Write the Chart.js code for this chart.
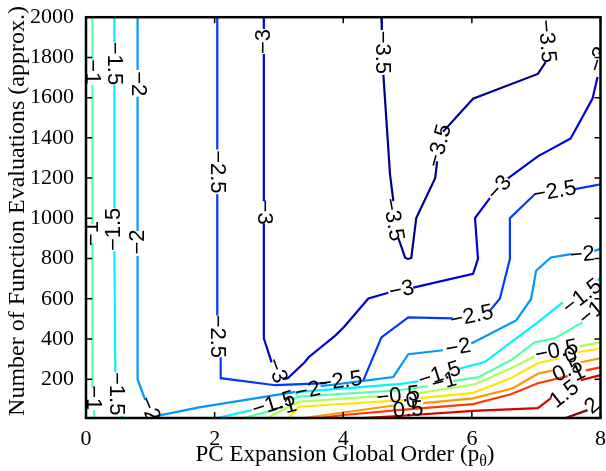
<!DOCTYPE html>
<html><head><meta charset="utf-8">
<script src="https://cdn.jsdelivr.net/npm/chart.js@4/dist/chart.umd.min.js"></script>
<style>html,body{margin:0;padding:0;background:#fff}canvas{display:block}</style>
</head><body><canvas id="c" width="606" height="471"></canvas>
<script>
// ---- data (x = PC order, y = function evaluations) ----
const levels = [-3.5,-3,-2.5,-2,-1.5,-1,-0.5,0,0.5,1,1.5,2];
const xTicks = [0,2,4,6,8];
const yTicks = [200,400,600,800,1000,1200,1400,1600,1800,2000];

// each contour: list of polyline pieces (pieces are separated where a label sits)
const contourM3_5 = [
  [[4.593,2000],[4.60,1936]],
  [[4.624,1713],[4.727,1219],[4.779,1085]],
  [[4.856,902],[4.964,803],[5.011,798],[5.058,803],[5.135,1001],[5.429,1199],[5.46,1283]],
  [[5.553,1431],[6.018,1595],[7.025,1718],[7.148,1777]]
];
const contourM3 = [
  [[2.765,2000],[2.765,1941]],
  [[2.765,1817],[2.765,1085]],
  [[2.765,976],[2.765,403],[2.886,284]],
  [[3.059,200],[3.137,205],[3.40,284],[3.462,309],[3.88,418],[4.004,457],[4.391,601],[4.70,630]],
  [[5.088,655],[6.018,724],[6.095,798],[6.049,1001],[6.28,1100]],
  [[6.56,1199],[7.025,1308],[7.536,1397],[7.876,1595],[7.954,1703]]
];
const contourM2_5 = [
  [[2.041,2000],[2.041,1342]],
  [[2.041,1120],[2.041,517]],
  [[2.094,309],[2.094,205],[2.946,170],[3.741,180]],
  [[4.314,195],[4.593,408],[5.011,507],[5.70,502]],
  [[6.281,541],[6.436,601],[6.591,798],[6.591,1001],[6.978,1120]],
  [[7.598,1145],[8.0,1169]]
];
const contourM2 = [
  [[0.802,2000],[0.802,1738]],
  [[0.802,1604],[0.802,937]],
  [[0.802,813],[0.802,200],[0.922,96]],
  [[1.05,14],[1.758,60],[3.256,137]],
  [[3.648,165],[4.283,190],[4.779,211],[5.011,324],[5.55,344]],
  [[5.991,377],[6.688,492],[6.921,599],[6.998,739],[7.23,805],[7.54,822]],
  [[7.903,838],[8.0,848]]
];
const contourM1_5 = [
  [[0.441,2000],[0.441,1876]],
  [[0.441,1664],[0.441,1051]],
  [[0.441,838],[0.457,235]],
  [[0.55,17],[0.558,7]],
  [[2.037,7],[2.579,46]],
  [[3.261,121],[3.307,137],[4.856,175],[5.166,190]],
  [[5.812,253],[6.199,285],[6.715,409],[7.025,483],[7.412,582]],
  [[7.954,690],[8.0,704]]
];
const contourM1 = [
  [[0.10,2000],[0.10,1787]],
  [[0.10,1664],[0.10,971]],
  [[0.10,877],[0.10,155]],
  [[0.124,46],[0.132,7]],
  [[2.455,7],[2.966,51]],
  [[3.23,101],[3.307,113],[4.856,145],[5.321,165]],
  [[5.708,190],[6.095,209],[6.606,294],[6.978,383],[7.288,403],[7.722,483]]
];
const contourM0_5 = [
  [[2.811,7],[3.307,88],[4.546,116]],
  [[5.166,130],[6.049,175],[6.606,254],[6.978,314]],
  [[7.675,363],[8.0,383]]
];
const contour0 = [
  [[3.152,7],[3.307,63],[4.933,96]],
  [[5.197,106],[6.018,132],[6.606,205],[7.025,279],[7.365,304]],
  [[7.644,334],[8.0,353]]
];
const contourP0_5 = [
  [[3.384,7],[4.787,69]],
  [[5.243,81],[6.018,105],[6.637,155],[7.025,227],[7.257,244]],
  [[7.691,284],[8.0,304]]
];
const contourP1 = [
  [[3.617,7],[4.004,22],[4.856,46],[6.018,76],[6.606,125],[7.025,180],[7.49,215]],
  [[7.77,244],[8.0,259]]
];
const contourP1_5 = [
  [[4.004,2],[4.856,17],[6.018,42],[7.025,56],[7.226,105]],
  [[7.691,195],[8.0,220]]
];
const contourP2 = [
  [[7.412,2],[7.799,46]]
];

// contour labels: [text, x, y, angle in degrees]
const contourLabels = [
  ['\u22123.5',4.60,1825,90],['\u22123.5',4.77,994,80],['\u22123.5',5.50,1360,-75],['\u22123.5',7.16,1880,85],
  ['\u22123',2.765,1879,-90],['\u22123',2.765,1031,90],['\u22123',2.96,242,70],['\u22123',4.91,643,-12],['\u22123',6.43,1150,-48],['\u22123',7.98,1790,-72],
  ['\u22122.5',2.041,1231,90],['\u22122.5',2.041,413,90],['\u22122.5',3.96,188,-8],['\u22122.5',6.0,512,-12],['\u22122.5',7.29,1132,-10],
  ['\u22122',0.802,1669,90],['\u22122',0.802,882,-90],['\u22122',0.98,51,68],['\u22122',3.45,140,-12],['\u22122',5.79,356,-10],['\u22122',7.72,818,-5],
  ['\u22121.5',0.441,1770,90],['\u22121.5',0.441,945,-90],['\u22121.5',0.47,128,90],['\u22121.5',2.92,75,-17],['\u22121.5',5.50,222,-18],['\u22121.5',7.72,610,-38],
  ['\u22121',0.10,1728,90],['\u22121',0.10,924,-90],['\u22121',0.11,108,90],['\u22121',3.08,58,-15],['\u22121',5.57,185,-15],['\u22121',7.86,526,-40],
  ['\u22120.5',4.856,116,-6],['\u22120.5',7.32,339,-12],
  ['0',5.07,91,-8],['0',7.54,314,-20],
  ['0.5',5.01,46,-5],['0.5',7.49,244,-25],
  ['1',7.66,229,-25],
  ['1.5',7.44,124,-38],
  ['2',7.876,66,-40]
];

const yTitle = 'Number of Function Evaluations (approx.)';
const xTitleMain = 'PC Expansion Global Order (p';
const xTitleSub = '\u03b8';
const xTitleTail = ')';

// ---- styles ----
const levelColors = ['rgb(0,0,140)','rgb(0,0,220)','rgb(0,58,255)','rgb(0,151,255)','rgb(0,243,255)','rgb(81,255,174)',
  'rgb(174,255,81)','rgb(255,230,0)','rgb(255,151,0)','rgb(255,58,0)','rgb(220,0,0)','rgb(140,0,0)'];
const contours = [contourM3_5,contourM3,contourM2_5,contourM2,contourM1_5,contourM1,contourM0_5,contour0,contourP0_5,contourP1,contourP1_5,contourP2];

function buildLine(pieces){
  const out=[];
  pieces.forEach((p,i)=>{
    if(i>0) out.push({x:p[0][0], y:null});
    p.forEach(pt=>out.push({x:pt[0], y:pt[1]}));
  });
  return out;
}

const datasets = contours.map((c,i)=>({
  label: String(levels[i]),
  data: buildLine(c),
  borderColor: levelColors[i],
  borderWidth: 2.2,
  pointRadius: 0,
  fill: false,
  tension: 0,
  spanGaps: false
}));

const serif = '"Liberation Serif","Times New Roman",serif';

const decor = {
  id:'decor',
  afterDatasetsDraw(chart){
    const {ctx, chartArea:a, scales:{x,y}} = chart;
    ctx.save();
    ctx.beginPath(); ctx.rect(a.left, a.top, a.right-a.left, a.bottom-a.top); ctx.clip();
    ctx.fillStyle='#000';
    ctx.font='22px "Liberation Sans", Arial, sans-serif';
    ctx.textAlign='center'; ctx.textBaseline='middle';
    contourLabels.forEach(([t,vx,vy,ang])=>{
      ctx.save();
      ctx.translate(x.getPixelForValue(vx), y.getPixelForValue(vy));
      ctx.rotate(ang*Math.PI/180);
      ctx.fillText(t,0,0);
      ctx.restore();
    });
    ctx.restore();
  },
  afterDraw(chart){
    const {ctx, chartArea:a, scales:{x,y}} = chart;
    ctx.save();
    ctx.strokeStyle='#000';
    ctx.lineWidth=1.5;
    ctx.beginPath();
    xTicks.forEach(v=>{
      const p=x.getPixelForValue(v);
      ctx.moveTo(p,a.bottom); ctx.lineTo(p,a.bottom-6);
      ctx.moveTo(p,a.top); ctx.lineTo(p,a.top+6);
    });
    yTicks.forEach(v=>{
      const p=y.getPixelForValue(v);
      ctx.moveTo(a.left,p); ctx.lineTo(a.left+6,p);
      ctx.moveTo(a.right,p); ctx.lineTo(a.right-6,p);
    });
    ctx.stroke();
    ctx.lineWidth=2.5;
    ctx.strokeRect(a.left,a.top,a.right-a.left,a.bottom-a.top);
    ctx.fillStyle='#000';
    // y-axis title
    ctx.save();
    ctx.font='24px '+serif;
    ctx.textAlign='center'; ctx.textBaseline='middle';
    ctx.translate(18, 211);
    ctx.rotate(-Math.PI/2);
    ctx.fillText(yTitle,0,0);
    ctx.restore();
    // x-axis title with subscript theta
    ctx.textBaseline='alphabetic'; ctx.textAlign='left';
    ctx.font='23px '+serif; const w1=ctx.measureText(xTitleMain).width, w3=ctx.measureText(xTitleTail).width;
    ctx.font='16px '+serif; const w2=ctx.measureText(xTitleSub).width;
    let sx=345-(w1+w2+w3)/2;
    const base=461;
    ctx.font='23px '+serif; ctx.fillText(xTitleMain,sx,base); sx+=w1;
    ctx.font='16px '+serif; ctx.fillText(xTitleSub,sx,base+5); sx+=w2;
    ctx.font='23px '+serif; ctx.fillText(xTitleTail,sx,base);
    ctx.restore();
  }
};

new Chart(document.getElementById('c'),{
  type:'line',
  data:{datasets},
  options:{
    responsive:false, animation:false, devicePixelRatio:1,
    layout:{padding:{top:15,right:3,left:0,bottom:0}},
    plugins:{legend:{display:false}, tooltip:{enabled:false}},
    scales:{
      x:{type:'linear', min:0, max:8,
        afterBuildTicks:s=>{s.ticks=xTicks.map(v=>({value:v}));},
        afterFit:s=>{s.height=53;},
        grid:{display:false}, border:{display:false},
        ticks:{font:{family:serif,size:22}, color:'#000', padding:0, maxRotation:0, autoSkip:false, callback:v=>String(v)}
      },
      y:{type:'linear', min:7, max:2000,
        afterBuildTicks:s=>{s.ticks=yTicks.map(v=>({value:v}));},
        afterFit:s=>{s.width=86;},
        grid:{display:false}, border:{display:false},
        ticks:{font:{family:serif,size:22}, color:'#000', padding:4, autoSkip:false, callback:v=>String(v)}
      }
    }
  },
  plugins:[decor]
});
</script></body></html>
